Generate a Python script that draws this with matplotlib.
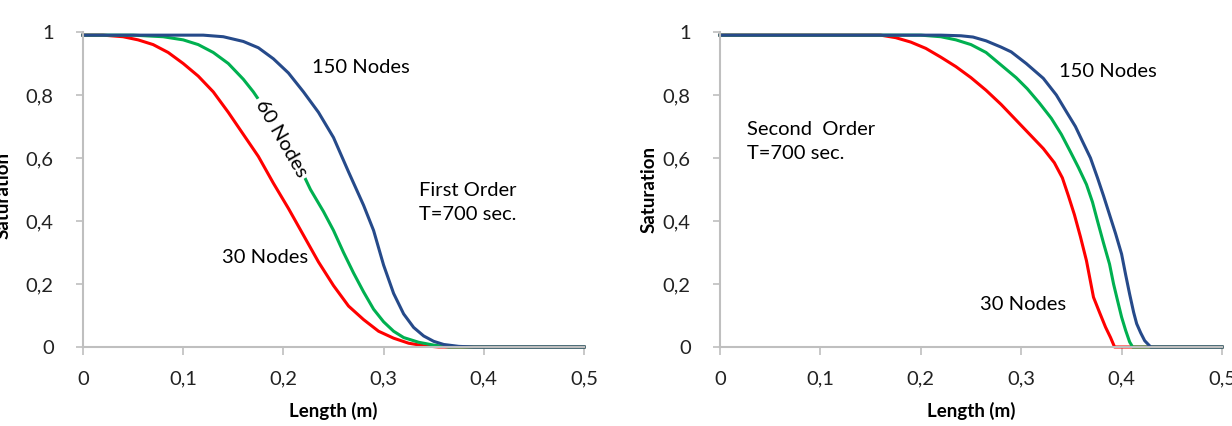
import matplotlib
matplotlib.use("Agg")
import matplotlib.pyplot as plt
import numpy as np

plt.rcParams['font.family'] = ['Lato', 'DejaVu Sans']

# First order, T=700 sec. (left panel)
x1_30 = [0, 0.02, 0.04, 0.055, 0.07, 0.085, 0.1, 0.115, 0.13, 0.145, 0.16, 0.175, 0.19, 0.205,
         0.22, 0.235, 0.25, 0.265, 0.28, 0.295, 0.31, 0.325, 0.34, 0.355, 0.5]
y1_30 = [0.99, 0.99, 0.985, 0.975, 0.96, 0.935, 0.9, 0.86, 0.81, 0.745, 0.675, 0.605, 0.52, 0.44,
         0.355, 0.27, 0.195, 0.13, 0.087, 0.05, 0.028, 0.012, 0.004, 0.0, 0.0]

x1_60 = [0, 0.05, 0.08, 0.1, 0.115, 0.13, 0.145, 0.16, 0.17, 0.185, 0.2, 0.215, 0.227, 0.24,
         0.25, 0.26, 0.27, 0.28, 0.29, 0.3, 0.31, 0.32, 0.335, 0.35, 0.365, 0.5]
y1_60 = [0.99, 0.99, 0.985, 0.975, 0.96, 0.935, 0.9, 0.85, 0.81, 0.74, 0.66, 0.58, 0.5, 0.43,
         0.37, 0.3, 0.235, 0.175, 0.12, 0.08, 0.05, 0.03, 0.015, 0.006, 0.0, 0.0]

x1_150 = [0, 0.05, 0.1, 0.12, 0.14, 0.16, 0.175, 0.19, 0.205, 0.22, 0.235, 0.25, 0.265, 0.28,
          0.29, 0.3, 0.31, 0.32, 0.33, 0.34, 0.35, 0.36, 0.375, 0.39, 0.5]
y1_150 = [0.99, 0.99, 0.99, 0.99, 0.985, 0.97, 0.95, 0.915, 0.87, 0.81, 0.745, 0.665, 0.556, 0.45,
          0.37, 0.26, 0.17, 0.105, 0.062, 0.035, 0.018, 0.008, 0.002, 0.0, 0.0]

# Second order, T=700 sec. (right panel)
x2_30 = [0, 0.1, 0.16, 0.175, 0.19, 0.205, 0.22, 0.235, 0.25, 0.265, 0.28, 0.295, 0.31, 0.322,
         0.333, 0.341, 0.347, 0.353, 0.359, 0.365, 0.372, 0.378, 0.384, 0.389, 0.393, 0.5]
y2_30 = [0.99, 0.99, 0.99, 0.982, 0.968, 0.948, 0.92, 0.89, 0.855, 0.815, 0.77, 0.72, 0.67, 0.63,
         0.585, 0.537, 0.48, 0.42, 0.35, 0.274, 0.158, 0.11, 0.063, 0.03, 0.0, 0.0]

x2_60 = [0, 0.1, 0.2, 0.22, 0.235, 0.25, 0.265, 0.28, 0.295, 0.306, 0.318, 0.33, 0.34, 0.349,
         0.357, 0.365, 0.371, 0.376, 0.382, 0.388, 0.392, 0.396, 0.4, 0.404, 0.408, 0.411, 0.5]
y2_60 = [0.99, 0.99, 0.99, 0.985, 0.975, 0.96, 0.935, 0.895, 0.855, 0.82, 0.775, 0.726, 0.675, 0.62,
         0.57, 0.516, 0.46, 0.40, 0.33, 0.263, 0.2, 0.147, 0.095, 0.053, 0.016, 0.0, 0.0]

x2_150 = [0, 0.1, 0.22, 0.24, 0.252, 0.265, 0.28, 0.29, 0.305, 0.322, 0.335, 0.345, 0.354, 0.361,
          0.369, 0.376, 0.382, 0.388, 0.394, 0.4, 0.404, 0.408, 0.412, 0.415, 0.419, 0.423, 0.429, 0.5]
y2_150 = [0.99, 0.99, 0.99, 0.988, 0.984, 0.972, 0.952, 0.937, 0.9, 0.853, 0.8, 0.747, 0.7, 0.653,
          0.6, 0.537, 0.48, 0.42, 0.36, 0.295, 0.23, 0.168, 0.11, 0.074, 0.045, 0.02, 0.0, 0.0]

xticks = [0, 0.1, 0.2, 0.3, 0.4, 0.5]
xtick_labels = ['0', '0,1', '0,2', '0,3', '0,4', '0,5']
yticks = [0, 0.2, 0.4, 0.6, 0.8, 1.0]
ytick_labels = ['0', '0,2', '0,4', '0,6', '0,8', '1']

red = '#ff0000'
green = '#00b050'
blue = '#264a8a'
grey = '#bfbfbf'
fs = 14.5

fig = plt.figure(figsize=(12.32, 4.26), dpi=100)
ax1 = fig.add_axes([83 / 1232, 1 - 347 / 426, 501 / 1232, 315 / 426])
ax2 = fig.add_axes([720 / 1232, 1 - 347 / 426, 502 / 1232, 315 / 426])


def style(ax):
    ax.set_xlim(0, 0.5)
    ax.set_ylim(0, 1)
    ax.set_xticks(xticks)
    ax.set_xticklabels(xtick_labels)
    ax.set_yticks(yticks)
    ax.set_yticklabels(ytick_labels)
    for s in ['top', 'right']:
        ax.spines[s].set_visible(False)
    for s in ['left', 'bottom']:
        ax.spines[s].set_color(grey)
        ax.spines[s].set_linewidth(1.5)
    ax.tick_params(axis='x', direction='out', length=6, width=1.2, color=grey,
                   pad=11, labelsize=fs, labelcolor='#222222')
    ax.tick_params(axis='y', direction='out', length=5, width=1.2, color=grey,
                   pad=16, labelsize=fs, labelcolor='#222222')
    ax.set_xlabel('Length (m)', fontsize=13.5, fontweight='bold')
    ax.set_ylabel('Saturation', fontsize=13.5, fontweight='bold')
    ax.xaxis.set_label_coords(0.5, -0.175)


style(ax1)
style(ax2)
ax1.yaxis.set_label_coords(-0.142, 0.48)
ax2.yaxis.set_label_coords(-0.124, 0.5)

lw = 2.2
ax1.plot(x1_30, y1_30, color=red, lw=lw, clip_on=False)
ax1.plot(x1_60, y1_60, color=green, lw=lw, clip_on=False)
ax1.plot(x1_150, y1_150, color=blue, lw=lw, clip_on=False)

ax2.plot(x2_30, y2_30, color=red, lw=lw, clip_on=False)
ax2.plot(x2_60, y2_60, color=green, lw=lw, clip_on=False)
ax2.plot(x2_150, y2_150, color=blue, lw=lw, clip_on=False)

# annotations, left panel
ax1.text(0.277, 0.888, '150 Nodes', fontsize=fs, ha='center', va='center')
ax1.text(0.198, 0.662, '60 Nodes', fontsize=fs, ha='center', va='center', rotation=-60,
         bbox=dict(boxstyle='square,pad=0.15', fc='white', ec='none'))
ax1.text(0.182, 0.284, '30 Nodes', fontsize=fs, ha='center', va='center')
ax1.text(0.335, 0.46, 'First Order\nT=700 sec.', fontsize=fs, ha='left', va='center', linespacing=1.5)

# annotations, right panel
ax2.text(0.386, 0.874, '150 Nodes', fontsize=fs, ha='center', va='center')
ax2.text(0.302, 0.135, '30 Nodes', fontsize=fs, ha='center', va='center')
ax2.text(0.027, 0.653, 'Second  Order\nT=700 sec.', fontsize=fs, ha='left', va='center', linespacing=1.5)

fig.savefig('out.png', dpi=100)
